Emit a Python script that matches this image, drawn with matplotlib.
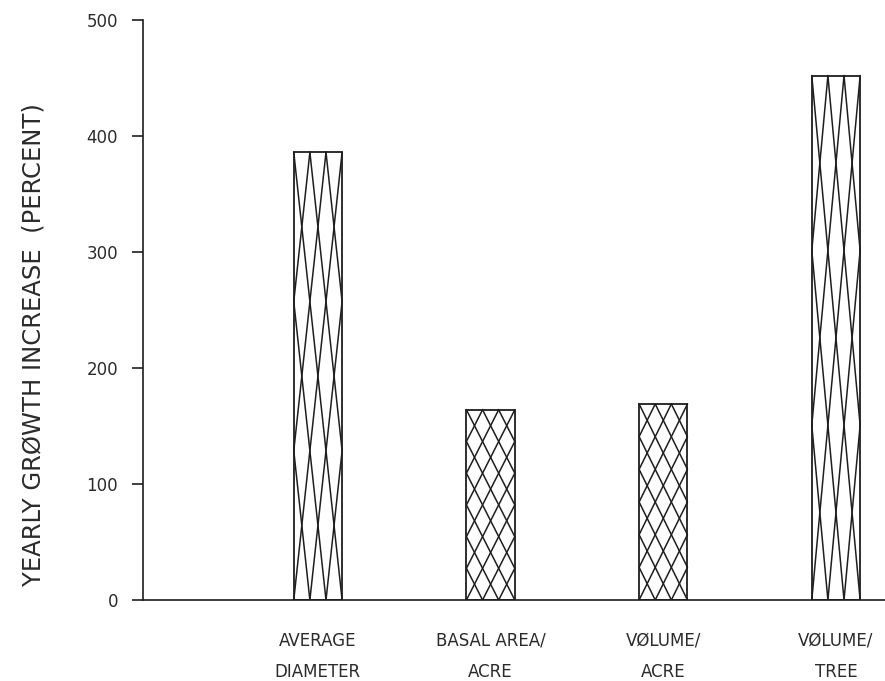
import matplotlib
matplotlib.use('Agg')
import matplotlib.pyplot as plt

# growth figures
categories = ['AVERAGE\nDIAMETER', 'BASAL AREA/\nACRE', 'VØLUME/\nACRE', 'VØLUME/\nTREE']
increase = [386, 164, 169, 452]
y_ticks = [0, 100, 200, 300, 400, 500]

# how many diamond rows the plotter put in each bar
diamond_rows = [3, 6, 6, 3]

ink = '#1e1e1e'
text_col = '#2b2b2b'

fig = plt.figure(figsize=(8.85, 6.81), dpi=100)
ax = fig.add_axes([0.1616, 0.1189, 1.0 - 0.1616, 0.9706 - 0.1189])

xpos = list(range(1, len(categories) + 1))
bars = ax.bar(xpos, increase, width=0.28, facecolor='white',
              edgecolor=ink, linewidth=1.3, zorder=2)

# diamond lattice inside each bar: three columns, two zigzags per column
for rect, n in zip(bars, diamond_rows):
    x0 = rect.get_x()
    w = rect.get_width()
    H = rect.get_height()
    c = w / 3
    h = H / n
    ys = [H - i * h for i in range(n + 1)]
    for j in range(3):
        left = x0 + j * c
        right = left + c
        xa = [left if i % 2 == 0 else right for i in range(n + 1)]
        xb = [right if i % 2 == 0 else left for i in range(n + 1)]
        ax.plot(xa, ys, color=ink, lw=1.1, zorder=3)
        ax.plot(xb, ys, color=ink, lw=1.1, zorder=3)

ax.set_xlim(-0.013, 4.284)
ax.set_ylim(0, 500)

for side in ['top', 'right']:
    ax.spines[side].set_visible(False)
ax.spines['left'].set_color(ink)
ax.spines['bottom'].set_color(ink)
ax.spines['left'].set_linewidth(1.2)
ax.spines['bottom'].set_linewidth(1.2)

ax.set_yticks(y_ticks)
ax.set_yticklabels([str(t) for t in y_ticks], fontsize=12, color=text_col)
ax.tick_params(axis='y', direction='out', length=8, width=1.2, color=ink, pad=10)

ax.set_xticks(xpos)
ax.set_xticklabels(categories, fontsize=12, color=text_col, linespacing=1.9)
ax.tick_params(axis='x', length=0, pad=23)

ax.set_ylabel('YEARLY GRØWTH INCREASE  (PERCENT)', fontsize=17.5, color=text_col)
ax.yaxis.set_label_coords(-0.132, 0.44)

fig.savefig('out.png', dpi=100, facecolor='white')
